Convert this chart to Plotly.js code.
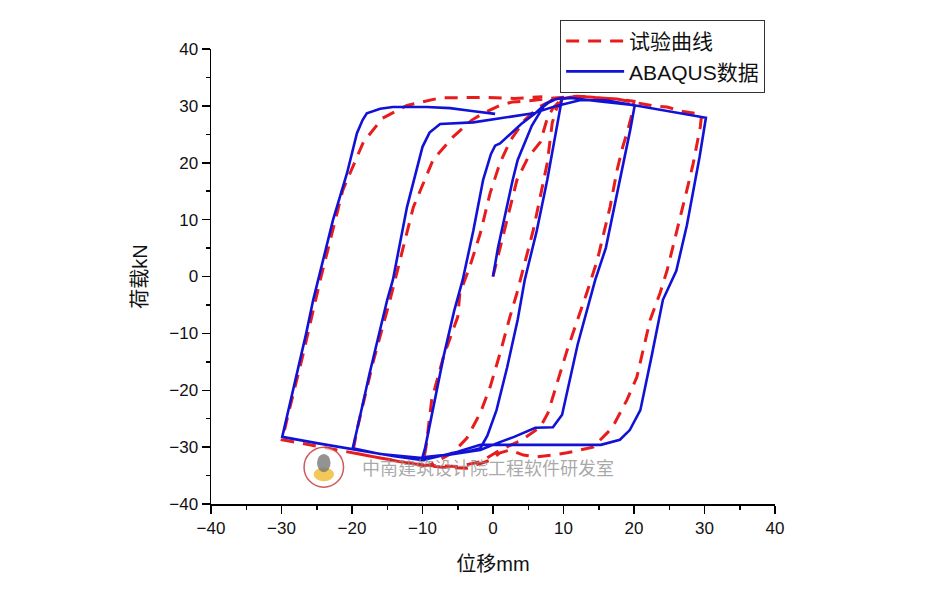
<!DOCTYPE html>
<html>
<head>
<meta charset="utf-8">
<script src="https://cdn.plot.ly/plotly-3.0.1.min.js"></script>
<style>html,body{margin:0;padding:0;background:#fff;}#chart{width:931px;height:590px;}</style>
</head>
<body>
<div id="chart"></div>
<script>
// Test curve (试验曲线)
var testX = [0,1,2.1,3.4,5,6.7,7.7,8.5,10,
  9,8.4,7.7,6.7,5.7,3.4,2.4,1,-0.4,-1.8,-3.7,-5.7,-8.9,-10,
  -9.5,-8.7,-7,-5,-4.7,-3.3,-1.8,-0.4,1,2.5,4.5,6.5,8.5,11.9,13.8,17.6,20,
  19.6,19,18.4,17.6,16.6,14.8,13.3,10.5,7.8,6.7,4,1,-1.8,-5,-10,-16,-19.9,
  -19.3,-17,-14.6,-11.3,-8.5,-5.7,-3,-1.4,1,2.8,5.2,7.1,11.9,17.6,22.7,24.7,27,29.6,
  29.4,28.4,27.5,26.1,24.7,23.7,22.3,21.3,20.4,19,17,16.2,14.2,10.5,8.5,6.2,4.3,2.4,1,-0.4,-3.7,-7.5,-12.2,-16,-19.9,-26,-29.9,
  -29,-27,-24.5,-21.3,-18.4,-15.7,-12.2,-7.5,-1.4,3,7];
var testY = [0,5,10.5,17,21,23.6,27.8,29.6,31.5,
  29.5,27,20,14,8.1,-2.9,-7.1,-13.5,-19.4,-24,-28.4,-31,-33.1,-33.3,
  -30,-21.7,-14,-7.1,-2.9,1.7,7.6,14.7,20,24,27.5,29.8,31,31.7,31.5,31.2,30.8,
  28,25.2,22.8,18.7,12.2,2.9,-2.9,-13,-24,-26.5,-28.8,-30.5,-32.6,-33.4,-33.2,-31.9,-31,
  -27,-15,-4.1,12.2,20.5,24.5,27.5,28.7,30.1,30.7,30.9,31.2,31.7,31.2,30,29.8,29,28.5,
  26.3,19.9,15.2,8.2,1.1,-2.9,-7.6,-12.9,-17.7,-21.7,-26.4,-27.5,-30,-31,-31.4,-31.7,-31.4,-30.5,-31,-32.3,-33.7,-33.5,-32.8,-31.9,-31,-29.6,-28.7,
  -24,-14,-0.6,15.2,23.6,27.8,30.1,31.4,31.5,31.3,31.6];

// ABAQUS data (ABAQUS数据)
var abaqusX = [0,0.7,1.4,2.0,2.8,3.5,4.3,5.5,7.1,8.3,9.8,
  9.3,8.5,7.7,6.2,4.5,3.5,2.0,0.5,-0.8,-1.8,-4,-7,-10,
  -9.6,-8.5,-7,-5.5,-4.3,-2.8,-1.4,-0.3,0.3,1.0,2.0,4.0,6.0,7.5,9,11,14.9,20.1,
  19.5,17.5,16,14.5,12,9.8,8.5,6,3,0.6,-1.8,-6,-10,-16,-19.9,
  -19.3,-17.5,-15,-14.2,-12.2,-11,-10,-9,-8,-7.5,-2.8,1,5.7,9,12.3,16,20.1,25,30.2,
  29.3,27.5,26,24.1,22.5,20.9,19.4,18,15.3,8.5,-1.8,-5,-10,-14,-20,-25,-29.9,
  -29.3,-28,-26.5,-25.5,-24.8,-22.7,-20.7,-19.3,-18.5,-17.9,-16,-14.2,-9.4,-6.1,-3,0.3];
var abaqusY = [0,5,9,12.6,17,20.5,23,26.5,29.8,31,31.4,
  28,23,17,8,-0.6,-7.6,-16,-23.5,-28,-30.2,-30.9,-31.4,-31.8,
  -30,-23,-14,-6,-0.6,8,17,21.5,23,23.4,24.5,26.8,28.7,30.4,31.2,31.4,30.8,30.1,
  26,14,5,-0.6,-12,-24.3,-26.5,-26.6,-28.2,-29.3,-30.5,-31.3,-31.9,-31.2,-30.2,
  -27,-17,-4.1,-0.6,12.2,18,22.8,25.3,26.3,26.8,27.1,27.8,28.7,30,31,31,30.1,29,27.9,
  21,9,1,-4.1,-14,-23.5,-27,-28.7,-29.6,-29.6,-29.6,-30.8,-32.3,-31.6,-30.4,-29.3,-28.2,
  -25,-18,-10,-4.1,-0.6,9.9,18.2,25.2,27.5,28.7,29.5,29.8,29.8,29.6,29.1,28.6];

var seriesNames = ['试验曲线', 'ABAQUS数据'];
var xTitle = '位移mm';
var yTitle = '荷载kN';
var watermark = '中南建筑设计院工程软件研发室';

var FONT = 'Liberation Sans, Arial, Noto Sans CJK SC, sans-serif';

var traces = [
  {x: testX, y: testY, name: seriesNames[0], mode: 'lines',
   line: {color: 'rgb(232,28,28)', width: 3, dash: '13px,9px'}},
  {x: abaqusX, y: abaqusY, name: seriesNames[1], mode: 'lines',
   line: {color: 'rgb(18,18,215)', width: 2.6}}
];

var axisCommon = {
  range: [-40, 40], dtick: 10, tick0: 0,
  ticks: 'outside', ticklen: 8, tickwidth: 1.5, tickcolor: '#000',
  minor: {dtick: 5, ticks: 'outside', ticklen: 4, tickwidth: 1.5, tickcolor: '#000'},
  showline: true, linecolor: '#000', linewidth: 1.5,
  showgrid: false, zeroline: false, mirror: false,
  tickfont: {family: FONT, size: 17, color: '#111'}
};

var layout = {
  width: 931, height: 590,
  margin: {l: 211, r: 156, t: 49, b: 86},
  paper_bgcolor: '#fff', plot_bgcolor: '#fff',
  showlegend: true,
  xaxis: Object.assign({}, axisCommon, {
    title: {text: xTitle, font: {family: FONT, size: 20, color: '#111'}, standoff: 20}
  }),
  yaxis: Object.assign({}, axisCommon, {
    title: {text: yTitle, font: {family: FONT, size: 20, color: '#111'}, standoff: 16}
  }),
  legend: {
    x: 0.619, y: 1.064, xanchor: 'left', yanchor: 'top',
    bordercolor: '#333', borderwidth: 1, bgcolor: '#fff',
    font: {family: FONT, size: 21, color: '#111'},
    itemwidth: 58, tracegroupgap: 0
  },
  annotations: [
    {xref: 'paper', yref: 'paper', x: 0.491, y: 0.081, xanchor: 'center', yanchor: 'middle',
     text: watermark, showarrow: false,
     font: {family: 'Noto Sans CJK SC, sans-serif', size: 18, color: 'rgba(140,140,140,0.75)'}}
  ],
  shapes: [
    {type: 'circle', xref: 'paper', yref: 'paper', x0: 0.165, x1: 0.235, y0: 0.037, y1: 0.125,
     line: {color: 'rgba(200,60,60,0.85)', width: 1.5}, fillcolor: 'rgba(255,255,255,0.6)'},
    {type: 'circle', xref: 'paper', yref: 'paper', x0: 0.182, x1: 0.218, y0: 0.05, y1: 0.08,
     line: {width: 0}, fillcolor: 'rgba(240,190,60,0.85)'},
    {type: 'circle', xref: 'paper', yref: 'paper', x0: 0.188, x1: 0.212, y0: 0.07, y1: 0.11,
     line: {width: 0}, fillcolor: 'rgba(120,120,120,0.8)'}
  ]
};

Plotly.newPlot('chart', traces, layout, {displayModeBar: false, staticPlot: true});
</script>
</body>
</html>
